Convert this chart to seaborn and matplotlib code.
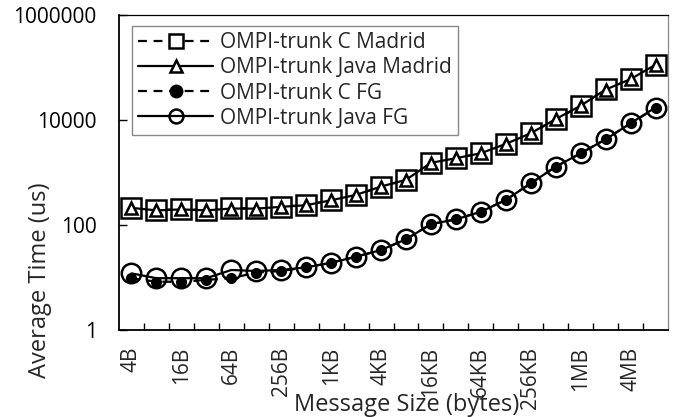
import matplotlib
matplotlib.use("Agg")
import matplotlib.pyplot as plt
import seaborn as sns
import numpy as np

# Message sizes (bytes), powers of two from 4B to 8MB
sizes = ["4B", "8B", "16B", "32B", "64B", "128B", "256B", "512B",
         "1KB", "2KB", "4KB", "8KB", "16KB", "32KB", "64KB", "128KB",
         "256KB", "512KB", "1MB", "2MB", "4MB", "8MB"]

# Average time (us)
c_madrid = [208, 193, 200, 193, 208, 208, 224, 240, 300, 372, 537, 720,
            1540, 1860, 2320, 3490, 5570, 10300, 18500, 38400, 59600, 112000]
java_madrid = [212, 190, 198, 190, 206, 205, 222, 238, 296, 375, 540, 725,
               1530, 1870, 2330, 3500, 5600, 10400, 18700, 38000, 60000, 113000]
c_fg = [9.7, 8.3, 8.3, 9.0, 9.7, 12.4, 13.3, 15.6, 19.1, 24.9, 33.4, 53.4,
        104, 128, 179, 300, 622, 1290, 2320, 4290, 8650, 16700]
java_fg = [12.0, 9.7, 9.7, 9.7, 13.9, 13.3, 13.9, 15.6, 19.1, 24.9, 33.4, 53.4,
           104, 128, 179, 300, 622, 1290, 2320, 4290, 8650, 17300]

labels = ["OMPI-trunk C Madrid", "OMPI-trunk Java Madrid",
          "OMPI-trunk C FG", "OMPI-trunk Java FG"]

sns.set_style("white")
plt.rcParams["font.family"] = ["Open Sans", "DejaVu Sans"]

fig = plt.figure(figsize=(6.75, 4.17), dpi=100)
ax = fig.add_axes([119 / 675, 87 / 417, 549 / 675, 315 / 417])

pos = np.arange(len(sizes))

sns.lineplot(x=pos, y=c_madrid, ax=ax, color="black", linestyle=(0, (4, 3)),
             linewidth=1.6, marker="s", markersize=15, markerfacecolor="white",
             markeredgecolor="black", markeredgewidth=1.8, label=labels[0], zorder=2)
sns.lineplot(x=pos, y=java_madrid, ax=ax, color="black", linestyle="-",
             linewidth=1.6, marker="^", markersize=9, markerfacecolor="white",
             markeredgecolor="black", markeredgewidth=1.8, label=labels[1], zorder=3)
sns.lineplot(x=pos, y=c_fg, ax=ax, color="black", linestyle=(0, (4, 3)),
             linewidth=1.6, marker="o", markersize=7, markerfacecolor="black",
             markeredgecolor="black", markeredgewidth=1.0, label=labels[2], zorder=4)
sns.lineplot(x=pos, y=java_fg, ax=ax, color="black", linestyle="-",
             linewidth=1.6, marker="o", markersize=14, markerfacecolor="none",
             markeredgecolor="black", markeredgewidth=1.8, label=labels[3], zorder=5)

ax.set_yscale("log")
ax.set_ylim(1, 1e6)
ax.set_xlim(-0.5, len(sizes) - 0.5)

ax.set_yticks([1, 100, 10000, 1000000])
ax.set_yticklabels(["1", "100", "10000", "1000000"])
ax.yaxis.set_minor_locator(matplotlib.ticker.NullLocator())
ax.tick_params(axis="y", which="major", direction="in", length=6, width=1,
               labelsize=15, pad=16, left=True, colors="black")

ax.set_xticks(pos[::2])
ax.set_xticklabels(sizes[::2], rotation=90, va="top", ha="center")
ax.set_xticks(pos[:-1] + 0.5, minor=True)
ax.tick_params(axis="x", which="major", length=0, labelsize=15, pad=12)
ax.tick_params(axis="x", which="minor", direction="in", length=5, width=1,
               bottom=True, color="black")

for side in ["left", "bottom"]:
    ax.spines[side].set_color("black")
    ax.spines[side].set_linewidth(1.3)
ax.spines["top"].set_color("black")
ax.spines["top"].set_linewidth(0.9)
ax.spines["right"].set_color("#888888")
ax.spines["right"].set_linewidth(0.9)

ax.set_xlabel("Message Size (bytes)", fontsize=17)
ax.set_ylabel("Average Time (us)", fontsize=17)
ax.xaxis.set_label_coords(0.523, -0.237)
ax.xaxis.label.set_va("center")
ax.yaxis.set_label_coords(-0.144, 0.159)
ax.yaxis.label.set_va("center")
ax.yaxis.label.set_ha("center")

leg = ax.legend(loc="upper left", bbox_to_anchor=(0.0237, 0.965),
                borderaxespad=0, fontsize=15, frameon=True, fancybox=False,
                edgecolor="#888888", framealpha=1, handlelength=3.6,
                handletextpad=0.3, labelspacing=0.2, borderpad=0.3)
leg.get_frame().set_linewidth(1.0)
legend_ms = [10, 8, 9, 10]
for h, ms in zip(leg.legend_handles, legend_ms):
    h.set_markersize(ms)

fig.savefig("out.png", dpi=100)
